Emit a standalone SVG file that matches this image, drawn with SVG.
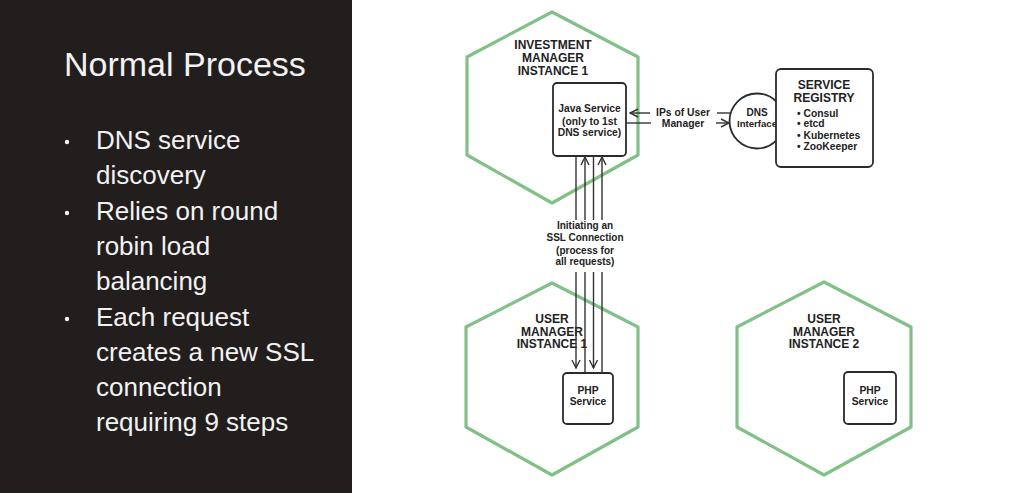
<svg xmlns="http://www.w3.org/2000/svg" width="1024" height="493" viewBox="0 0 1024 493">
  <style>
    .hex { fill: none; stroke: #82c089; stroke-width: 3.2; stroke-linejoin: round; }
    .box { fill: #ffffff; stroke: #2b2b2b; stroke-width: 1.8; }
    .lbl { font-family: "Liberation Sans", Arial, sans-serif; font-weight: bold; fill: #222222; }
    .h { font-size: 12px; text-anchor: middle; }
    .s { font-size: 10.3px; text-anchor: middle; }
    .line { stroke: #333333; stroke-width: 1.4; fill: none; }
    .panel { font-family: "Liberation Sans", Arial, sans-serif; fill: #f2f2f2; }
  </style>
  <defs>
    <marker id="arr" viewBox="0 0 10 10" refX="9" refY="5" markerWidth="10" markerHeight="10" markerUnits="userSpaceOnUse" orient="auto">
      <path d="M1,1 L9,5 L1,9" fill="none" stroke="#333333" stroke-width="1.4"/>
    </marker>
  </defs>
  <rect x="0" y="0" width="1024" height="493" fill="#ffffff"/>

  <g id="left-panel">
    <rect x="0" y="0" width="352" height="493" fill="#221e1e"/>
    <text class="panel" x="64" y="76" font-size="34">Normal Process</text>
    <g font-size="26">
      <circle cx="67" cy="142" r="2.2" fill="#f2f2f2"/>
      <text class="panel" x="96" y="149">DNS service</text>
      <text class="panel" x="96" y="184">discovery</text>
      <circle cx="67" cy="213" r="2.2" fill="#f2f2f2"/>
      <text class="panel" x="96" y="220">Relies on round</text>
      <text class="panel" x="96" y="255">robin load</text>
      <text class="panel" x="96" y="290">balancing</text>
      <circle cx="67" cy="319" r="2.2" fill="#f2f2f2"/>
      <text class="panel" x="96" y="326">Each request</text>
      <text class="panel" x="96" y="361">creates a new SSL</text>
      <text class="panel" x="96" y="396">connection</text>
      <text class="panel" x="96" y="431">requiring 9 steps</text>
    </g>
  </g>

  <g id="investment-manager-1">
    <polygon class="hex" points="552,12 638,57 638,155 552,203 467,155 467,57"/>
    <text class="lbl h" x="553" y="49">INVESTMENT</text>
    <text class="lbl h" x="553" y="62">MANAGER</text>
    <text class="lbl h" x="553" y="75">INSTANCE 1</text>
  </g>

  <g id="java-service">
    <rect class="box" x="553" y="83" width="73" height="73" rx="4"/>
    <text class="lbl s" x="589.5" y="111.5">Java Service</text>
    <text class="lbl s" x="589.5" y="124.5">(only to 1st</text>
    <text class="lbl s" x="589.5" y="135.5">DNS service)</text>
  </g>

  <g id="dns-interface">
    <circle cx="757" cy="121" r="27.5" fill="#ffffff" stroke="#2b2b2b" stroke-width="1.8"/>
    <text class="lbl" x="757" y="116" font-size="10" text-anchor="middle">DNS</text>
    <text class="lbl" x="757" y="126.5" font-size="9.6" text-anchor="middle">Interface</text>
  </g>

  <g id="service-registry">
    <rect class="box" x="776" y="69" width="97" height="98" rx="5"/>
    <text class="lbl h" x="824" y="89">SERVICE</text>
    <text class="lbl h" x="824" y="101.5">REGISTRY</text>
    <text class="lbl" x="797" y="116.5" font-size="10.3">• Consul</text>
    <text class="lbl" x="797" y="127" font-size="10.3">• etcd</text>
    <text class="lbl" x="797" y="138.5" font-size="10.3">• Kubernetes</text>
    <text class="lbl" x="797" y="149.5" font-size="10.3">• ZooKeeper</text>
  </g>

  <g id="user-manager-1">
    <polygon class="hex" points="552,283 638,327 638,427 552,475 466,427 466,327"/>
    <text class="lbl h" x="552" y="323">USER</text>
    <text class="lbl h" x="552" y="336">MANAGER</text>
    <text class="lbl h" x="552" y="348">INSTANCE 1</text>
  </g>

  <g id="php-service-1">
    <rect class="box" x="563" y="373" width="50" height="51" rx="4"/>
    <text class="lbl s" x="588" y="393.5">PHP</text>
    <text class="lbl s" x="588" y="405">Service</text>
  </g>

  <g id="user-manager-2">
    <polygon class="hex" points="824,282 911,327 911,427 824,475 737,427 737,327"/>
    <text class="lbl h" x="824" y="323">USER</text>
    <text class="lbl h" x="824" y="336">MANAGER</text>
    <text class="lbl h" x="824" y="348">INSTANCE 2</text>
  </g>

  <g id="php-service-2">
    <rect class="box" x="844" y="372" width="52" height="52" rx="4"/>
    <text class="lbl s" x="870" y="393.5">PHP</text>
    <text class="lbl s" x="870" y="405">Service</text>
  </g>

  <g id="connectors">
    <!-- DNS <-> Java -->
    <line class="line" x1="650" y1="113" x2="630" y2="113" marker-end="url(#arr)"/>
    <line class="line" x1="717" y1="113" x2="731" y2="113"/>
    <line class="line" x1="626" y1="123" x2="651" y2="123"/>
    <line class="line" x1="716" y1="123" x2="729" y2="123" marker-end="url(#arr)"/>
    <text class="lbl s" x="683" y="116">IPs of User</text>
    <text class="lbl s" x="683" y="127">Manager</text>

    <!-- SSL connection lines -->
    <line class="line" x1="576" y1="156" x2="576" y2="220"/>
    <line class="line" x1="585" y1="220" x2="585" y2="157" marker-end="url(#arr)"/>
    <line class="line" x1="593.5" y1="156" x2="593.5" y2="220"/>
    <line class="line" x1="602" y1="220" x2="602" y2="157" marker-end="url(#arr)"/>
    <text class="lbl" x="585" y="229" font-size="10" text-anchor="middle">Initiating an</text>
    <text class="lbl" x="585" y="240.5" font-size="10" text-anchor="middle">SSL Connection</text>
    <text class="lbl" x="585" y="253.5" font-size="10" text-anchor="middle">(process for</text>
    <text class="lbl" x="585" y="264.5" font-size="10" text-anchor="middle">all requests)</text>
    <line class="line" x1="576" y1="272" x2="576" y2="368" marker-end="url(#arr)"/>
    <line class="line" x1="585" y1="373" x2="585" y2="272"/>
    <line class="line" x1="593.5" y1="272" x2="593.5" y2="368" marker-end="url(#arr)"/>
    <line class="line" x1="602" y1="373" x2="602" y2="272"/>
  </g>
</svg>
